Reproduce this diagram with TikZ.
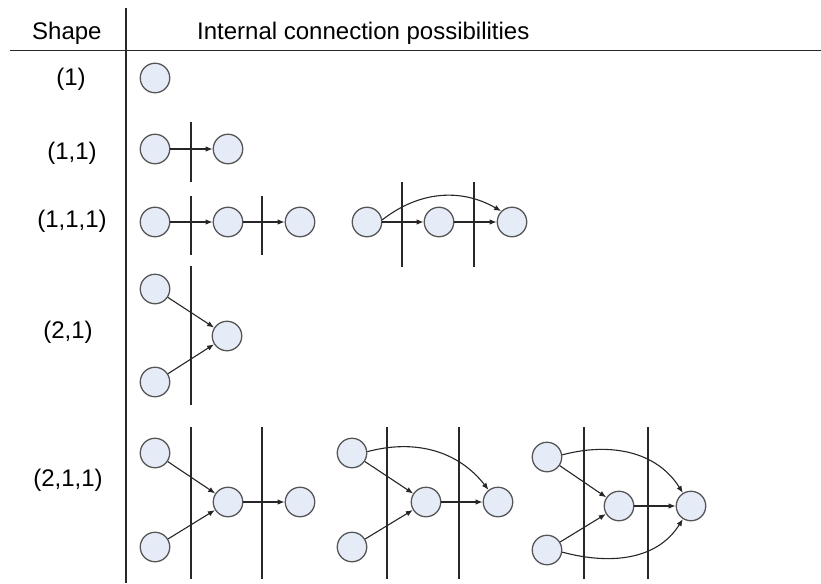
\documentclass[tikz,border=0pt]{standalone}
\usepackage{fontspec}
\setmainfont{Liberation Sans}
\usetikzlibrary{arrows.meta}
\definecolor{circfill}{RGB}{230,236,247}
\definecolor{circline}{RGB}{85,85,85}
\definecolor{rulecol}{RGB}{40,40,40}
\tikzset{
  circ/.style={circle, draw=circline, fill=circfill, line width=1.3pt, minimum size=29.5pt, inner sep=0pt},
  arr/.style={-{Latex[length=7pt,width=5.5pt]}, line width=1.1pt, draw=black!85},
  sep/.style={draw=rulecol, line width=1.2pt},
  lbl/.style={inner sep=0pt, font=\fontsize{24}{28}\selectfont},
}
\begin{document}
\begin{tikzpicture}[x=1pt,y=-1pt]
\useasboundingbox (0,0) rectangle (821,583);

% table frame
\draw[sep] (10,50.5) -- (821,50.5);
\draw[sep] (126,8) -- (126,583);
\node[lbl, anchor=base west] (hshape) at (32,39.5) {Shape};
\node[lbl, anchor=base west] (hconn) at (197,39.5) {Internal connection possibilities};

% row labels
\node[lbl] (l1)   at (71,79)  {(1)};
\node[lbl] (l11)  at (72,153) {(1,1)};
\node[lbl] (l111) at (72,221) {(1,1,1)};
\node[lbl] (l21)  at (68,332) {(2,1)};
\node[lbl] (l211) at (68,480) {(2,1,1)};

% (1)
\node[circ] (s1) at (155,78) {};

% (1,1)
\draw[sep] (191,122) -- (191,182);
\node[circ] (p1) at (155,149) {};
\node[circ] (p2) at (228,149) {};
\draw[arr] (p1) -- (p2);

% (1,1,1), chain
\draw[sep] (191,196) -- (191,255);
\draw[sep] (262,196) -- (262,255);
\node[circ] (qa) at (155,222) {};
\node[circ] (qb) at (228,222) {};
\node[circ] (qc) at (300,222) {};
\draw[arr] (qa) -- (qb);
\draw[arr] (qb) -- (qc);

% (1,1,1), chain with skip
\draw[sep] (402,182) -- (402,267);
\draw[sep] (474,182) -- (474,267);
\node[circ] (ra) at (367,222) {};
\node[circ] (rb) at (439,222) {};
\node[circ] (rc) at (512,222) {};
\draw[arr] (ra) -- (rb);
\draw[arr] (rb) -- (rc);
\draw[arr] (ra.8) to[out=38,in=150] (rc.135);

% (2,1)
\draw[sep] (191,266) -- (191,405);
\node[circ] (ut) at (155,289) {};
\node[circ] (ub) at (155,382) {};
\node[circ] (um) at (227,336) {};
\draw[arr] (ut) -- (um);
\draw[arr] (ub) -- (um);

% (2,1,1), first variant
\draw[sep] (191,427) -- (191,579);
\draw[sep] (262,427) -- (262,579);
\node[circ] (at) at (155,453) {};
\node[circ] (ab) at (155,547) {};
\node[circ] (am) at (228,502) {};
\node[circ] (ar) at (300,502) {};
\draw[arr] (at) -- (am);
\draw[arr] (ab) -- (am);
\draw[arr] (am) -- (ar);

% (2,1,1), second variant
\draw[sep] (387,427) -- (387,579);
\draw[sep] (459,427) -- (459,579);
\node[circ] (bt) at (352,453) {};
\node[circ] (bb) at (352,547) {};
\node[circ] (bm) at (426,502) {};
\node[circ] (br) at (498,502) {};
\draw[arr] (bt) -- (bm);
\draw[arr] (bb) -- (bm);
\draw[arr] (bm) -- (br);
\draw[arr] (bt.5) to[out=15,in=128] (br.128);

% (2,1,1), third variant
\draw[sep] (584,427) -- (584,579);
\draw[sep] (648,427) -- (648,579);
\node[circ] (ct) at (547,457) {};
\node[circ] (cb) at (547,550) {};
\node[circ] (cm) at (619,506) {};
\node[circ] (cr) at (691,506) {};
\draw[arr] (ct) -- (cm);
\draw[arr] (cb) -- (cm);
\draw[arr] (cm) -- (cr);
\draw[arr] (ct.8) to[out=15,in=122] (cr.122);
\draw[arr] (cb.-8) to[out=-15,in=238] (cr.238);
\end{tikzpicture}
\end{document}
